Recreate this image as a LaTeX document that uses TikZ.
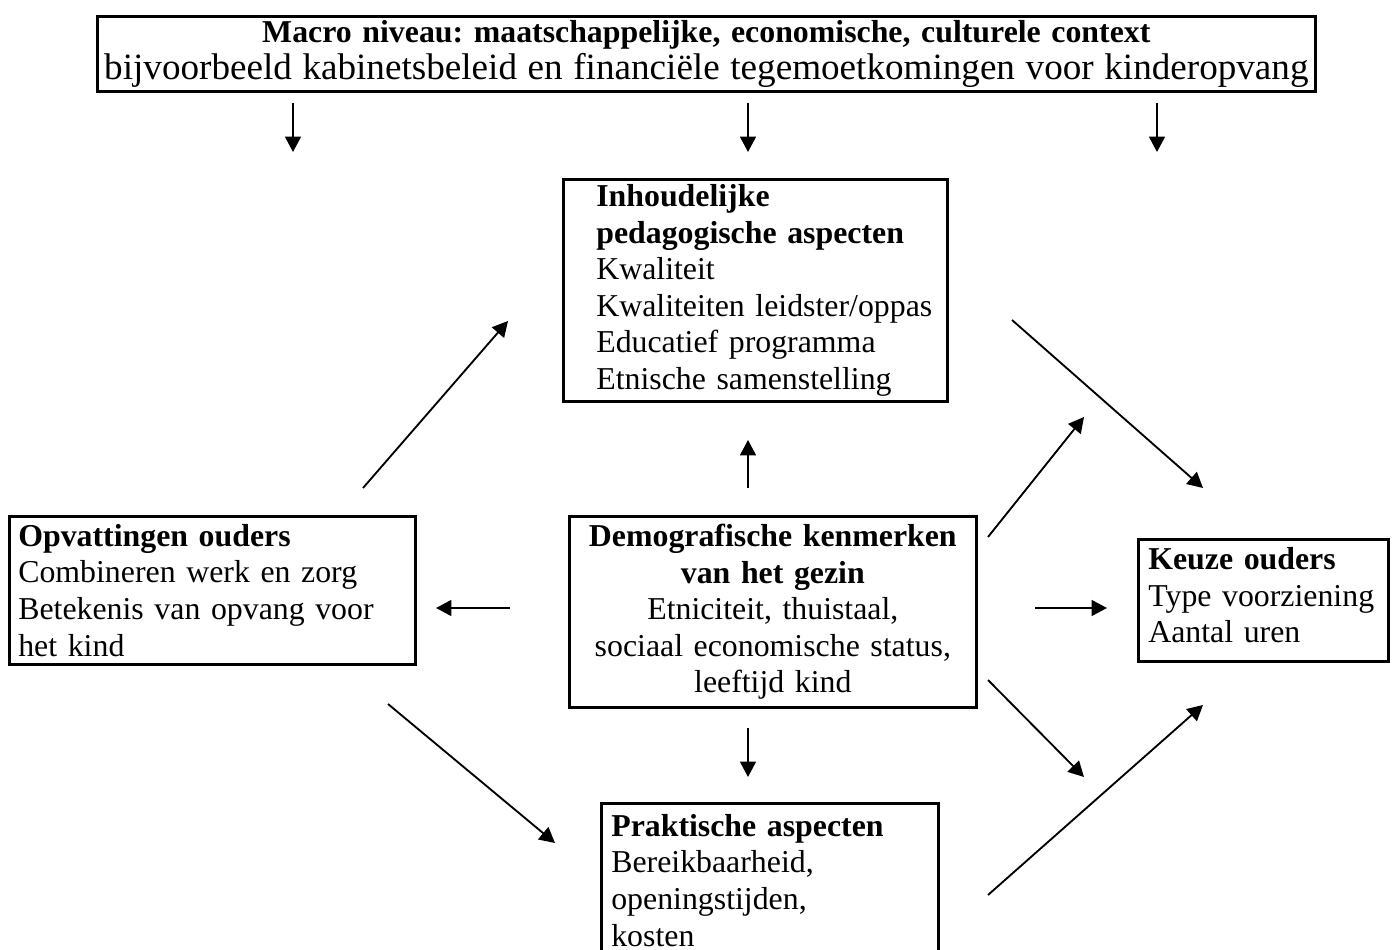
\documentclass[tikz,border=0pt]{standalone}
\usepackage{fontspec}
\setmainfont{Liberation Serif}
\frenchspacing
\usetikzlibrary{arrows.meta}
\newdimen\pxu
\pxu=0.377pt

\begin{document}
\begin{tikzpicture}[x=0.377pt,y=-0.377pt,
		box/.style={draw,line width=1pt,anchor=north west,inner xsep=0pt,inner ysep=1pt,
			font=\fontsize{12}{13.8}\selectfont},
		inset/.style={align=left,execute at begin node={\leftskip=#1\pxu}}]
			\useasboundingbox (0,0) rectangle (1393,950);
			\begin{scope}[every node/.style={box}]
	    		\node (macro) at (96,15) [text width=1218*\pxu,minimum height=75*\pxu,align=center]
	    			{\textbf{Macro niveau: maatschappelijke, economische, culturele context}\\
	    			{\fontsize{14}{14}\selectfont bijvoorbeeld kabinetsbeleid en financiële tegemoetkomingen voor kinderopvang}};
	    		\node (inhoud) at (562,178) [text width=384*\pxu,minimum height=222*\pxu,inset=33]
	    			{\textbf{Inhoudelijke}\\ \textbf{pedagogische aspecten}\\ Kwaliteit\\
	    			Kwaliteiten leidster/oppas\\ Educatief programma\\ Etnische samenstelling};
	    		\node (demo) at (568,515) [text width=407*\pxu,minimum height=191*\pxu,align=center]
	    			{\textbf{Demografische kenmerken}\\ \textbf{van het gezin}\\ Etniciteit, thuistaal,\\
	    			sociaal economische status,\\ leeftijd kind};
	    		\node (opv) at (8,515) [text width=406*\pxu,minimum height=148*\pxu,inset=9]
	    			{\textbf{Opvattingen ouders}\\ Combineren werk en zorg\\
	    			Betekenis van opvang voor\\ het kind};
	    		\node (keuze) at (1137,538) [text width=250*\pxu,minimum height=122*\pxu,inset=10]
	    			{\textbf{Keuze ouders}\\ Type voorziening\\ Aantal uren\rule[-3.8pt]{0pt}{0pt}};
	    		\node (prak) at (600,802) [text width=337*\pxu,minimum height=154*\pxu,inset=10]
	    			{\textbf{Praktische aspecten}\\ Bereikbaarheid,\\ openingstijden,\\ kosten};
			\end{scope}

			% loose arrow ends
	    	\coordinate (m1a) at (293,103); \coordinate (m1b) at (293,152);
	    	\coordinate (m2a) at (748,103); \coordinate (m2b) at (748,152);
	    	\coordinate (m3a) at (1157,103); \coordinate (m3b) at (1157,152);
	    	\coordinate (up) at (748,488); \coordinate (upb) at (748,440);
	    	\coordinate (lt) at (510,608); \coordinate (ltb) at (436,608);
	    	\coordinate (rt) at (1035,608); \coordinate (rtb) at (1107,608);
	    	\coordinate (dn) at (748,728); \coordinate (dnb) at (748,777);
	    	\coordinate (oi) at (363,488); \coordinate (oib) at (508,321);
	    	\coordinate (ik) at (1012,320); \coordinate (ikb) at (1203,488);
	    	\coordinate (ur) at (988,537); \coordinate (urb) at (1084,417);
	    	\coordinate (dr) at (988,680); \coordinate (drb) at (1084,777);
	    	\coordinate (op) at (388,704); \coordinate (opb) at (555,843);
	    	\coordinate (pk) at (988,895); \coordinate (pkb) at (1203,705);

			\begin{scope}[every edge/.style={draw=black,line width=0.7pt}]
				\path [-{Triangle[length=5.8pt,width=6pt]}]
					(m1a) edge (m1b)
					(m2a) edge (m2b)
					(m3a) edge (m3b)
					(up) edge (upb)
					(lt) edge (ltb)
					(rt) edge (rtb)
					(dn) edge (dnb)
					(oi) edge (oib)
					(ik) edge (ikb)
					(ur) edge (urb)
					(dr) edge (drb)
					(op) edge (opb)
					(pk) edge (pkb);
			\end{scope}
		\end{tikzpicture}
\end{document}
